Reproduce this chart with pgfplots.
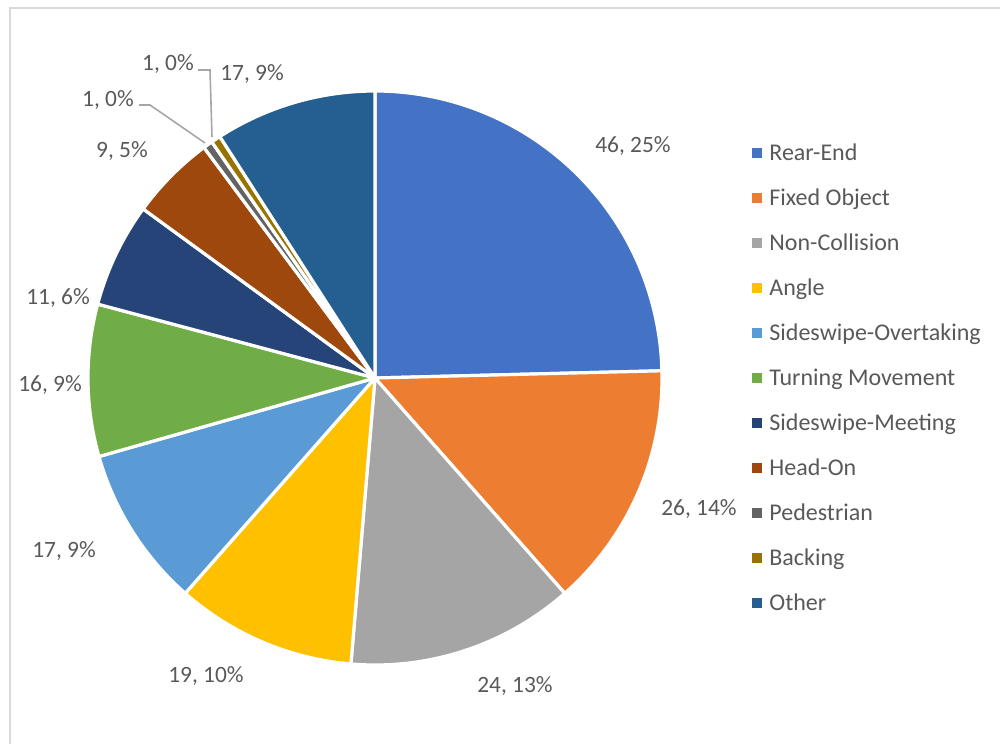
\documentclass[border=0pt]{standalone}
\usepackage{pgfplots}
\pgfplotsset{compat=1.18}
\usepackage{fontspec}
\setmainfont{Carlito}
\definecolor{c1}{HTML}{4472C4}
\definecolor{c2}{HTML}{ED7D31}
\definecolor{c3}{HTML}{A5A5A5}
\definecolor{c4}{HTML}{FFC000}
\definecolor{c5}{HTML}{5B9BD5}
\definecolor{c6}{HTML}{70AD47}
\definecolor{c7}{HTML}{264478}
\definecolor{c8}{HTML}{9E480E}
\definecolor{c9}{HTML}{636363}
\definecolor{c10}{HTML}{997300}
\definecolor{c11}{HTML}{255E91}
\definecolor{txt}{HTML}{595959}
\definecolor{bord}{HTML}{D9D9D9}
\definecolor{lead}{HTML}{A6A6A6}
\newcommand{\lab}{\fontsize{11.7}{14}\selectfont\color{txt}}
\newcommand{\leg}{\fontsize{12}{14}\selectfont\color{txt}}
\tikzset{
  dl/.style={anchor=base, inner sep=0pt, font=\lab},
  lg/.style={anchor=base west, inner sep=0pt, font=\leg},
}
\pgfplotsset{wedge/.style={draw=white, line width=1.6pt, line join=round, variable=\t}}
\begin{document}
\begin{tikzpicture}
\begin{axis}[
  at={(0,0)}, anchor=south west,
  width=500pt, height=372pt, scale only axis,
  xmin=0, xmax=1000, ymin=0, ymax=744, y dir=reverse,
  hide axis, clip=false,
]
% cumulative counts (total 187): 46,26,24,19,17,16,11,9,1,1,17
\addplot[wedge, fill=c1, domain=0:46, samples=90] ({375+287*cos(90-\t*360/187)}, {378-287*sin(90-\t*360/187)}) -- (axis cs:375,378) -- cycle;
\addplot[wedge, fill=c2, domain=46:72, samples=60] ({375+287*cos(90-\t*360/187)}, {378-287*sin(90-\t*360/187)}) -- (axis cs:375,378) -- cycle;
\addplot[wedge, fill=c3, domain=72:96, samples=60] ({375+287*cos(90-\t*360/187)}, {378-287*sin(90-\t*360/187)}) -- (axis cs:375,378) -- cycle;
\addplot[wedge, fill=c4, domain=96:115, samples=50] ({375+287*cos(90-\t*360/187)}, {378-287*sin(90-\t*360/187)}) -- (axis cs:375,378) -- cycle;
\addplot[wedge, fill=c5, domain=115:132, samples=50] ({375+287*cos(90-\t*360/187)}, {378-287*sin(90-\t*360/187)}) -- (axis cs:375,378) -- cycle;
\addplot[wedge, fill=c6, domain=132:148, samples=50] ({375+287*cos(90-\t*360/187)}, {378-287*sin(90-\t*360/187)}) -- (axis cs:375,378) -- cycle;
\addplot[wedge, fill=c7, domain=148:159, samples=40] ({375+287*cos(90-\t*360/187)}, {378-287*sin(90-\t*360/187)}) -- (axis cs:375,378) -- cycle;
\addplot[wedge, fill=c8, domain=159:168, samples=40] ({375+287*cos(90-\t*360/187)}, {378-287*sin(90-\t*360/187)}) -- (axis cs:375,378) -- cycle;
\addplot[wedge, fill=c9, domain=168:169, samples=6] ({375+287*cos(90-\t*360/187)}, {378-287*sin(90-\t*360/187)}) -- (axis cs:375,378) -- cycle;
\addplot[wedge, fill=c10, domain=169:170, samples=6] ({375+287*cos(90-\t*360/187)}, {378-287*sin(90-\t*360/187)}) -- (axis cs:375,378) -- cycle;
\addplot[wedge, fill=c11, domain=170:187, samples=50] ({375+287*cos(90-\t*360/187)}, {378-287*sin(90-\t*360/187)}) -- (axis cs:375,378) -- cycle;

% chart border
\draw[bord, line width=1.2pt] (axis cs:10,744) -- (axis cs:10,8) -- (axis cs:1000,8);

% leader lines
\draw[lead, line width=0.8pt] (axis cs:139,105) -- (axis cs:150,105) -- (axis cs:205,143);
\draw[lead, line width=0.8pt] (axis cs:198,70) -- (axis cs:210,70) -- (axis cs:212,137);

% data labels
\node[dl] at (axis cs:633,152) {46, 25\%};
\node[dl] at (axis cs:699,515) {26, 14\%};
\node[dl] at (axis cs:515,692) {24, 13\%};
\node[dl] at (axis cs:206,682) {19, 10\%};
\node[dl] at (axis cs:64,557) {17, 9\%};
\node[dl] at (axis cs:50,391) {16, 9\%};
\node[dl] at (axis cs:58,304) {11, 6\%};
\node[dl] at (axis cs:122,157) {9, 5\%};
\node[dl] at (axis cs:108,106) {1, 0\%};
\node[dl] at (axis cs:168,70) {1, 0\%};
\node[dl] at (axis cs:252,80) {17, 9\%};

% legend
\fill[c1] (axis cs:752,148) rectangle (axis cs:762,158);
\node[lg] at (axis cs:769,160) {Rear-End};
\fill[c2] (axis cs:752,193) rectangle (axis cs:762,203);
\node[lg] at (axis cs:769,205) {Fixed Object};
\fill[c3] (axis cs:752,238) rectangle (axis cs:762,248);
\node[lg] at (axis cs:769,250) {Non-Collision};
\fill[c4] (axis cs:752,283) rectangle (axis cs:762,293);
\node[lg] at (axis cs:769,295) {Angle};
\fill[c5] (axis cs:752,328) rectangle (axis cs:762,338);
\node[lg] at (axis cs:769,340) {Sideswipe-Overtaking};
\fill[c6] (axis cs:752,373) rectangle (axis cs:762,383);
\node[lg] at (axis cs:769,385) {Turning Movement};
\fill[c7] (axis cs:752,418) rectangle (axis cs:762,428);
\node[lg] at (axis cs:769,430) {Sideswipe-Meeting};
\fill[c8] (axis cs:752,463) rectangle (axis cs:762,473);
\node[lg] at (axis cs:769,475) {Head-On};
\fill[c9] (axis cs:752,508) rectangle (axis cs:762,518);
\node[lg] at (axis cs:769,520) {Pedestrian};
\fill[c10] (axis cs:752,553) rectangle (axis cs:762,563);
\node[lg] at (axis cs:769,565) {Backing};
\fill[c11] (axis cs:752,598) rectangle (axis cs:762,608);
\node[lg] at (axis cs:769,610) {Other};
\end{axis}
\pgfresetboundingbox
\path (0,0) rectangle (500pt,372pt);
\end{tikzpicture}
\end{document}
